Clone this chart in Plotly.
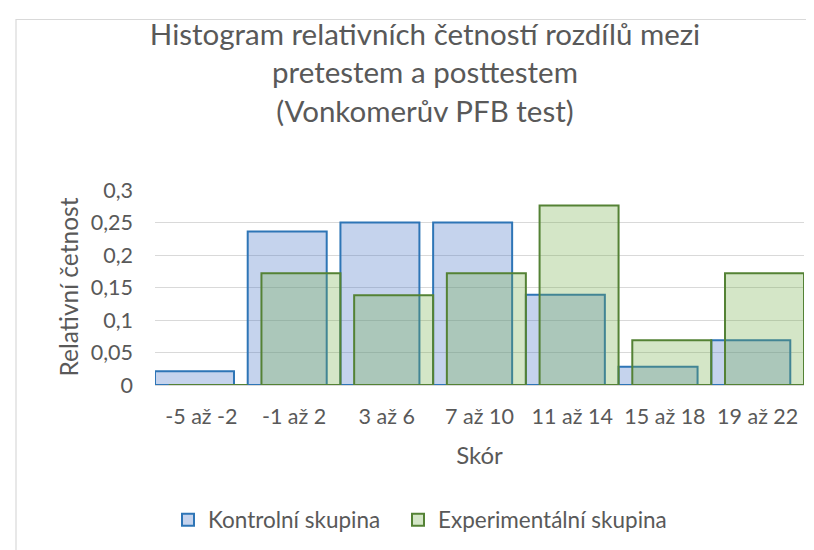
import plotly.graph_objects as go

# Data
categories = ['-5 až -2', '-1 až 2', '3 až 6', '7 až 10', '11 až 14', '15 až 18', '19 až 22']
kontrolni = [0.021, 0.236, 0.25, 0.25, 0.139, 0.028, 0.069]
experimentalni = [0.0, 0.172, 0.138, 0.172, 0.276, 0.069, 0.172]
y_ticks = [0, 0.05, 0.1, 0.15, 0.2, 0.25, 0.3]

FONT = 'Lato'
TXT = '#595959'
BAR_W = 0.852
SHIFT = 0.148

fig = go.Figure()

fig.add_trace(go.Bar(
    x=categories, y=kontrolni, name='Kontrolní skupina',
    width=BAR_W, offset=-0.5, legend='legend',
    marker=dict(color='rgba(68,114,196,0.31)',
                line=dict(color='#2E75B6', width=2)),
))
fig.add_trace(go.Bar(
    x=categories, y=experimentalni, name='Experimentální skupina',
    width=BAR_W, offset=-0.5 + SHIFT, legend='legend2',
    marker=dict(color='rgba(112,173,71,0.3)',
                line=dict(color='#548235', width=2)),
))

# light chart-area border (only left and top edges fall inside the picture)
fig.add_shape(type='rect', xref='paper', yref='paper',
              x0=(8 - 147) / 649, x1=(830 - 147) / 649,
              y0=(377 - 570) / 195, y1=1 + (182 - 11.5) / 195,
              line=dict(color='#D9D9D9', width=1.2), fillcolor='rgba(0,0,0,0)',
              layer='below')

# y axis title as a rotated annotation
fig.add_annotation(text='Relativní četnost', xref='paper', yref='paper',
                   x=(60 - 147) / 649, y=0.5, xanchor='center', yanchor='middle',
                   textangle=-90, showarrow=False,
                   font=dict(family=FONT, size=24.5, color=TXT))

legend_common = dict(yref='container', yanchor='middle', y=1 - 512 / 550,
                     xref='container', xanchor='left',
                     font=dict(size=22.5, color=TXT), bgcolor='rgba(0,0,0,0)')

fig.update_layout(
    width=814, height=550,
    margin=dict(l=147, r=18, t=182, b=173, autoexpand=False),
    paper_bgcolor='white', plot_bgcolor='white',
    barmode='overlay',
    separators=', ',
    font=dict(family=FONT, color=TXT, size=21.5),
    title=dict(
        text='Histogram relativních četností rozdílů mezi<br>pretestem a posttestem<br>(Vonkomerův PFB test)',
        x=417 / 814, xref='container', xanchor='center',
        y=1 - 37 / 550, yref='container', yanchor='top',
        font=dict(family=FONT, size=29.5, color=TXT),
    ),
    xaxis=dict(
        showgrid=False, showline=True, linecolor='#D9D9D9', linewidth=1.2,
        ticks='', ticklabelstandoff=12,
        tickfont=dict(size=21.5, color=TXT),
        title=dict(text='Skór', font=dict(size=24, color=TXT), standoff=19),
    ),
    yaxis=dict(
        range=[0, 0.3], tickvals=y_ticks,
        showgrid=True, gridcolor='#D9D9D9', gridwidth=1.2,
        zeroline=False, showline=False, ticks='', ticklabelstandoff=21,
        tickfont=dict(size=21.5, color=TXT),
    ),
    legend=dict(x=160 / 814, **legend_common),
    legend2=dict(x=390 / 814, **legend_common),
    showlegend=True,
)

fig.write_html('out.html')
